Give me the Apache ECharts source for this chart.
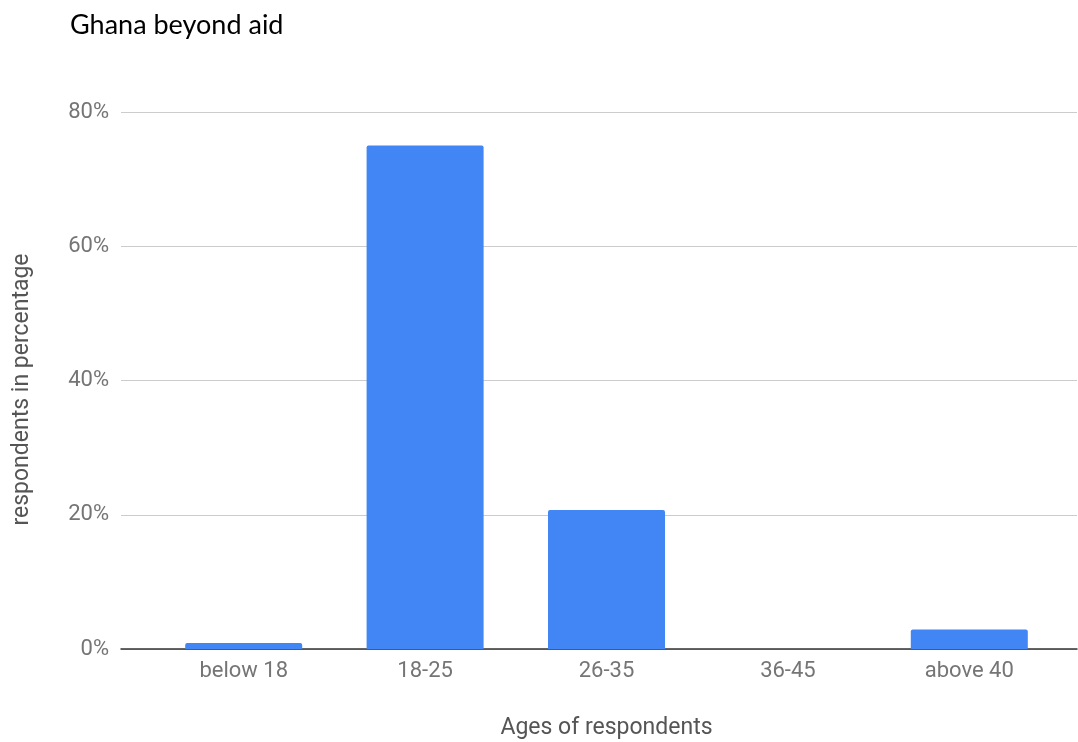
<!DOCTYPE html>
<html>
<head>
<meta charset="utf-8">
<script src="https://cdn.jsdelivr.net/npm/echarts@6/dist/echarts.min.js"></script>
<style>
  html, body { margin: 0; padding: 0; background: #fff; }
  #chart { width: 1078px; height: 742px; }
</style>
</head>
<body>
<div id="chart"></div>
<script>
// Age groups of survey respondents
const categories = ['below 18', '18-25', '26-35', '36-45', 'above 40'];
// Share of respondents in each group, in percent
const shares = [0.9, 75, 20.7, 0, 2.9];
// Value axis range and step, in percent
const yMin = 0;
const yMax = 80;
const yStep = 20;

const chart = echarts.init(document.getElementById('chart'));
const labelFont = 'Roboto';
const grey = '#757575';

chart.setOption({
  animation: false,
  title: {
    text: 'Ghana beyond aid',
    left: 65,
    top: 7,
    textStyle: { fontFamily: 'Lato', fontWeight: 'normal', fontSize: 27, color: '#000' }
  },
  grid: [
    // full-width frame carrying the gridlines and the baseline
    { left: 121, right: 1, top: 112, bottom: 93, outerBoundsMode: 'none' },
    // inset band area carrying the bars
    { left: 153, right: 18, top: 112, bottom: 93, outerBoundsMode: 'none' }
  ],
  xAxis: [
    {
      gridIndex: 0, type: 'value', min: 0, max: 1,
      axisLine: { show: true, onZero: false, lineStyle: { color: '#333', width: 1.5 } },
      axisTick: { show: false }, axisLabel: { show: false }, splitLine: { show: false }
    },
    {
      gridIndex: 1, type: 'category', data: categories,
      axisLine: { show: false }, axisTick: { show: false },
      axisLabel: { fontFamily: labelFont, fontSize: 22, color: grey, margin: 11 },
      name: 'Ages of respondents', nameLocation: 'middle', nameGap: 68,
      nameTextStyle: { fontFamily: labelFont, fontSize: 23, color: '#555' }
    }
  ],
  yAxis: [
    {
      gridIndex: 0, type: 'value', min: yMin, max: yMax, interval: yStep,
      axisLine: { show: false }, axisTick: { show: false },
      axisLabel: { formatter: '{value}%', fontFamily: labelFont, fontSize: 22, color: grey, margin: 12 },
      splitLine: { lineStyle: { color: '#cccccc', width: 1 } },
      name: 'respondents in percentage', nameLocation: 'middle', nameGap: 87,
      nameTextStyle: { fontFamily: labelFont, fontSize: 23, color: '#555', padding: [0, 18, 0, 0] }
    },
    {
      gridIndex: 1, type: 'value', min: yMin, max: yMax, interval: yStep,
      show: false, splitLine: { show: false }
    }
  ],
  series: [{
    type: 'bar',
    xAxisIndex: 1, yAxisIndex: 1,
    data: shares,
    barWidth: 117,
    itemStyle: { color: '#4285F4', borderRadius: [2, 2, 0, 0] }
  }]
});
</script>
</body>
</html>
